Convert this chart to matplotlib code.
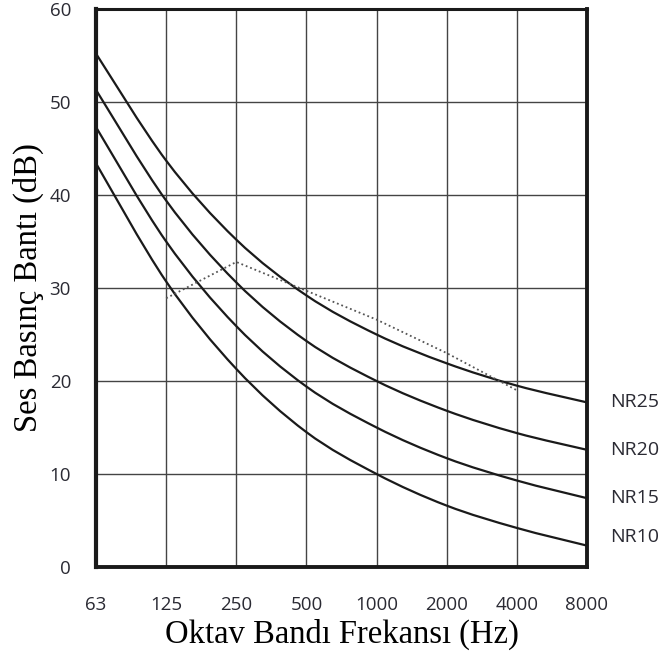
import matplotlib
matplotlib.use("Agg")
import matplotlib.pyplot as plt
import numpy as np
from matplotlib.path import Path
from matplotlib.patches import PathPatch

freqs = ["63", "125", "250", "500", "1000", "2000", "4000", "8000"]

nr10 = [43.4, 30.7, 21.3, 14.5, 10.0, 6.6, 4.2, 2.3]
nr15 = [47.3, 35.0, 25.9, 19.4, 15.0, 11.7, 9.3, 7.4]
nr20 = [51.3, 39.4, 30.6, 24.3, 20.0, 16.8, 14.4, 12.6]
nr25 = [55.2, 43.7, 35.2, 29.2, 25.0, 21.9, 19.5, 17.7]
curve_names = ["NR25", "NR20", "NR15", "NR10"]

# measured spectrum (dotted), 125 Hz .. 4000 Hz
meas_freqs = ["125", "250", "500", "1000", "2000", "4000"]
meas = [28.9, 32.8, 29.7, 26.6, 23.0, 19.0]

yticks = [0, 10, 20, 30, 40, 50, 60]

x = np.arange(len(freqs))
xm = [freqs.index(f) for f in meas_freqs]


def smooth_path(xs, ys):
    # catmull-rom through the points, drawn as cubic bezier segments
    p = np.column_stack([xs, ys]).astype(float)
    verts = [p[0]]
    codes = [Path.MOVETO]
    n = len(p)
    for i in range(n - 1):
        p0 = p[i - 1] if i > 0 else p[i]
        p1, p2 = p[i], p[i + 1]
        p3 = p[i + 2] if i + 2 < n else p[i + 1]
        c1 = p1 + (p2 - p0) / 6.0
        c2 = p2 - (p3 - p1) / 6.0
        verts += [c1, c2, p2]
        codes += [Path.CURVE4] * 3
    return Path(verts, codes)


fig = plt.figure(figsize=(6.65, 6.53), dpi=100)
ax = fig.add_axes([0.1444, 0.1317, 0.7383, 0.8545])

for vals in [nr25, nr20, nr15, nr10]:
    ax.add_patch(PathPatch(smooth_path(x, vals), facecolor="none",
                           edgecolor="#1a1a1a", lw=1.6, zorder=3))

ax.plot(xm, meas, color="#555555", lw=1.3, linestyle=(0, (1, 1.6)), zorder=3)

txt_color = "#2a2a33"

# curve labels to the right of the plot
nudge = [0, 0, 0, 0.9]
for name, vals, dy in zip(curve_names, [nr25, nr20, nr15, nr10], nudge):
    ax.text(x[-1] + 0.33, vals[-1] + dy, name, ha="left", va="center",
            fontsize=14, color=txt_color, family="Open Sans")

ax.set_xlim(0, len(freqs) - 1)
ax.set_ylim(0, 60)
ax.set_xticks(x)
ax.set_xticklabels(freqs)
ax.set_yticks(yticks)
ax.grid(True, color="#444444", lw=1.0)
ax.set_axisbelow(True)

ax.tick_params(axis="both", length=0, labelsize=13.5, labelcolor=txt_color)
ax.tick_params(axis="x", pad=21)
ax.tick_params(axis="y", pad=18)
for lab in ax.get_xticklabels() + ax.get_yticklabels():
    lab.set_family("Open Sans")

for side, w in [("left", 3.0), ("bottom", 2.8), ("right", 2.8), ("top", 2.2)]:
    ax.spines[side].set_linewidth(w)
    ax.spines[side].set_color("#1a1a1a")

ax.set_xlabel("Oktav Bandı Frekansı (Hz)", family="Liberation Serif",
              fontsize=23.5, labelpad=3)
ax.set_ylabel("Ses Basınç Bantı (dB)", family="Liberation Serif",
              fontsize=23.5, labelpad=4)

fig.savefig("out.png", dpi=100)
